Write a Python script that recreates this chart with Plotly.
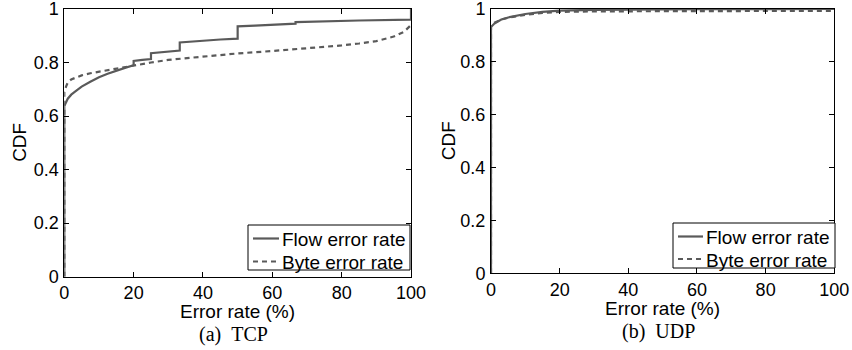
import plotly.graph_objects as go

# ---- data ----
tcp_flow_x = [0, 0, 1, 2, 3, 5, 7.5, 10, 12.5, 15, 17.5, 20, 20, 22.5, 25, 25, 30, 33.3, 33.3,
              40, 45, 50, 50, 55, 60, 66.7, 66.7, 75, 85, 100, 100]
tcp_flow_y = [0, 0.638, 0.665, 0.68, 0.69, 0.71, 0.728, 0.745, 0.758, 0.77, 0.78, 0.79, 0.806,
              0.81, 0.813, 0.835, 0.84, 0.845, 0.875, 0.882, 0.886, 0.889, 0.935, 0.938, 0.941,
              0.945, 0.951, 0.954, 0.957, 0.96, 1.0]

tcp_byte_x = [0, 0, 0.5, 1, 2, 3, 5, 7.5, 10, 15, 20, 25, 30, 40, 50, 60, 70, 80, 85, 90, 95, 98, 100]
tcp_byte_y = [0, 0.69, 0.71, 0.725, 0.737, 0.743, 0.752, 0.76, 0.766, 0.777, 0.789, 0.80, 0.81,
              0.822, 0.834, 0.843, 0.853, 0.864, 0.871, 0.88, 0.897, 0.915, 0.94]

udp_flow_x = [0, 0, 1, 2, 3, 5, 7.5, 10, 15, 20, 30, 40, 60, 100]
udp_flow_y = [0, 0.932, 0.945, 0.953, 0.96, 0.968, 0.975, 0.981, 0.989, 0.994, 0.997, 0.998, 0.999, 1.0]

udp_byte_x = [0, 0, 1, 2, 3, 5, 7.5, 10, 15, 20, 30, 40, 60, 100]
udp_byte_y = [0, 0.938, 0.948, 0.955, 0.96, 0.967, 0.973, 0.978, 0.985, 0.989, 0.991, 0.992, 0.992, 0.993]

x_ticks = [0, 20, 40, 60, 80, 100]
y_ticks = [0, 0.2, 0.4, 0.6, 0.8, 1]
series_names = ["Flow error rate", "Byte error rate"]
captions = ["(a)\u00a0\u00a0TCP", "(b)\u00a0\u00a0UDP"]
x_title = "Error rate (%)"
y_title = "CDF"

LINE = "#5a5a5a"
DASH = "5px,4px"
SANS = "Liberation Sans, Arial, sans-serif"
SERIF = "Liberation Serif, Times New Roman, serif"
W, H = 852, 350

fig = go.Figure()

panels = [
    (tcp_flow_x, tcp_flow_y, tcp_byte_x, tcp_byte_y, "x", "y"),
    (udp_flow_x, udp_flow_y, udp_byte_x, udp_byte_y, "x2", "y2"),
]
for fx, fy, bx, by, xa, ya in panels:
    fig.add_trace(go.Scatter(x=fx, y=fy, mode="lines", name=series_names[0], showlegend=False,
                             line=dict(color=LINE, width=2.2), xaxis=xa, yaxis=ya))
    fig.add_trace(go.Scatter(x=bx, y=by, mode="lines", name=series_names[1], showlegend=False,
                             line=dict(color=LINE, width=2.2, dash=DASH), xaxis=xa, yaxis=ya))

# plot areas in pixels (x0, x1, ytop, ybottom)
left_px = (64.3, 411.0, 9.0, 276.7)
right_px = (491.0, 834.3, 9.0, 273.3)

def dom(p):
    x0, x1, y0, y1 = p
    return [x0 / W, x1 / W], [1 - y1 / H, 1 - y0 / H]

axis_common = dict(showline=True, linecolor="black", linewidth=1, mirror="ticks",
                   ticks="inside", ticklen=5, tickcolor="black", showgrid=False, zeroline=False,
                   automargin=False, ticklabeloverflow="allow",
                   tickfont=dict(family=SANS, size=18, color="black"))

lx, ly = dom(left_px)
rx, ry = dom(right_px)
fig.update_layout(
    xaxis=dict(domain=lx, range=[0, 100], tickvals=x_ticks, anchor="y", **axis_common),
    yaxis=dict(domain=ly, range=[0, 1], tickvals=y_ticks, anchor="x", ticklabelstandoff=1, **axis_common),
    xaxis2=dict(domain=rx, range=[0, 100], tickvals=x_ticks, anchor="y2", **axis_common),
    yaxis2=dict(domain=ry, range=[0, 1], tickvals=y_ticks, anchor="x2", ticklabelstandoff=1, **axis_common),
)

annots = []
shapes = []

def px(x):
    return x / W

def py(y):
    return 1 - y / H

for (x0, x1, y0, y1), cap, ylab_x in [(left_px, captions[0], 20), (right_px, captions[1], 448)]:
    cx = (x0 + x1) / 2
    annots.append(dict(text=x_title, x=px(cx), y=py(y1 + 35), xref="paper", yref="paper",
                       showarrow=False, xanchor="center", yanchor="middle",
                       font=dict(family=SANS, size=19, color="black")))
    annots.append(dict(text=cap, x=px(cx - 4), y=py(y1 + 58), xref="paper", yref="paper",
                       showarrow=False, xanchor="center", yanchor="middle",
                       font=dict(family=SERIF, size=20, color="black")))
    annots.append(dict(text=y_title, x=px(ylab_x), y=py((y0 + y1) / 2), xref="paper", yref="paper",
                       showarrow=False, xanchor="center", yanchor="middle", textangle=-90,
                       font=dict(family=SANS, size=19, color="black")))

# legends (box, line samples, labels) for each panel
legends = [
    dict(box=(248, 410, 225, 270), line=(253, 279), rows=(238.5, 261.5)),
    dict(box=(673, 835, 223, 268), line=(678, 703), rows=(236.5, 259.0)),
]
for lg in legends:
    bx0, bx1, by0, by1 = lg["box"]
    shapes.append(dict(type="rect", xref="paper", yref="paper",
                       x0=px(bx0), x1=px(bx1), y0=py(by1), y1=py(by0),
                       line=dict(color="black", width=1), fillcolor="white", layer="above"))
    lx0, lx1 = lg["line"]
    for name, ry_, dash in zip(series_names, lg["rows"], ["solid", DASH]):
        shapes.append(dict(type="line", xref="paper", yref="paper",
                           x0=px(lx0), x1=px(lx1), y0=py(ry_), y1=py(ry_),
                           line=dict(color=LINE, width=2.2, dash=dash), layer="above"))
        annots.append(dict(text=name, x=px(lx1 + 1), y=py(ry_ + 1), xref="paper", yref="paper",
                           showarrow=False, xanchor="left", yanchor="middle",
                           font=dict(family=SANS, size=19, color="black")))

fig.update_layout(
    annotations=annots,
    shapes=shapes,
    width=W, height=H,
    margin=dict(l=0, r=0, t=0, b=0, autoexpand=False),
    paper_bgcolor="white", plot_bgcolor="white",
    showlegend=False,
)

fig.write_html("out.html")
